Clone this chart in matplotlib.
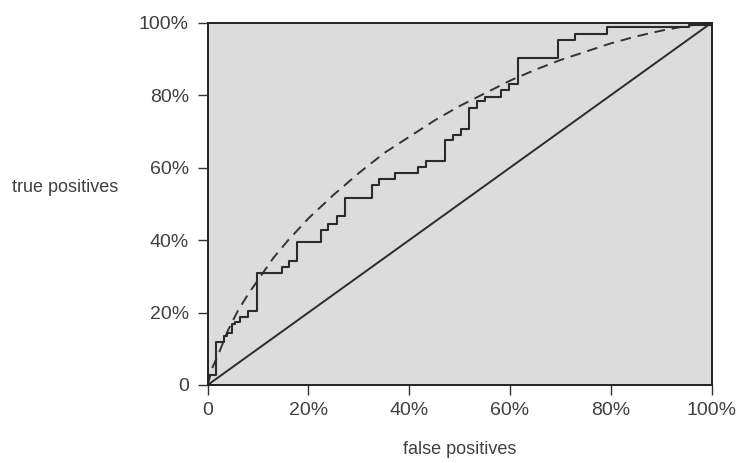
import matplotlib.pyplot as plt

# ROC step curve: false positive rate where each step happens, true positive level after it (%)
fp_steps = [0, 0, 1.6, 3.3, 3.8, 4.8, 5.4, 6.5, 8.0, 9.8, 14.7, 16.2, 17.8, 22.5,
            23.9, 25.6, 27.3, 32.6, 34.0, 37.1, 41.8, 43.3, 47.1, 48.7, 50.3, 51.8,
            53.5, 55.1, 58.3, 59.8, 61.6, 69.6, 72.9, 79.2, 95.5, 100]
tp_steps = [0, 2.8, 12.0, 13.6, 14.3, 16.8, 17.4, 18.8, 20.3, 31.0, 32.7, 34.2, 39.6, 42.8,
            44.3, 46.6, 51.5, 55.1, 56.9, 58.4, 60.3, 61.8, 67.6, 69.1, 70.6, 76.4,
            78.3, 79.6, 81.3, 83.0, 90.2, 95.2, 97.0, 98.8, 99.3, 100]

# smooth (dashed) curve
fp_smooth = [0, 1, 2, 4, 6, 8, 10, 13, 16, 20, 25, 30, 35, 40, 45, 50, 55, 60,
             65, 70, 75, 80, 85, 90, 95, 100]
tp_smooth = [0, 5.0, 8.0, 15.0, 20.5, 25.0, 29.0, 35.0, 40.0, 46.0, 52.5, 58.5, 64.0,
             68.5, 73.0, 77.0, 80.5, 84.0, 87.0, 89.7, 92.0, 94.3, 96.2, 97.8, 99.1, 100]

# chance line
fp_diag = [0, 100]
tp_diag = [0, 100]

x_ticks = [0, 20, 40, 60, 80, 100]
x_tick_labels = ["0", "20%", "40%", "60%", "80%", "100%"]
y_ticks = [0, 20, 40, 60, 80, 100]
y_tick_labels = ["0", "20%", "40%", "60%", "80%", "100%"]

plt.rcParams["font.family"] = ["Liberation Sans", "DejaVu Sans"]

text_color = "#404040"
line_color = "#2b2b2b"

fig = plt.figure(figsize=(7.39, 4.63), dpi=100)
ax = fig.add_axes([0.281, 0.1685, 0.682, 0.7825])
ax.set_facecolor("#dcdcdd")

ax.plot(fp_diag, tp_diag, color=line_color, linewidth=1.4)
ax.plot(fp_smooth, tp_smooth, color="#333333", linewidth=1.4, linestyle=(0, (5.5, 3.5)))
ax.step(fp_steps, tp_steps, where="post", color=line_color, linewidth=1.5)

ax.set_xlim(0, 100)
ax.set_ylim(0, 100)
ax.set_xticks(x_ticks)
ax.set_xticklabels(x_tick_labels)
ax.set_yticks(y_ticks)
ax.set_yticklabels(y_tick_labels)
ax.tick_params(direction="out", length=7.5, width=1, color="#333333",
               labelsize=14, labelcolor=text_color)
ax.tick_params(axis="x", pad=5)
ax.tick_params(axis="y", pad=6)

for spine in ax.spines.values():
    spine.set_color("#222222")
    spine.set_linewidth(1.4)

fig.text(0.622, 0.030, "false positives", fontsize=13, color=text_color,
         ha="center", va="center")
fig.text(0.088, 0.594, "true positives", fontsize=13, color=text_color,
         ha="center", va="center")

fig.savefig("out.png", dpi=100)
plt.close(fig)
